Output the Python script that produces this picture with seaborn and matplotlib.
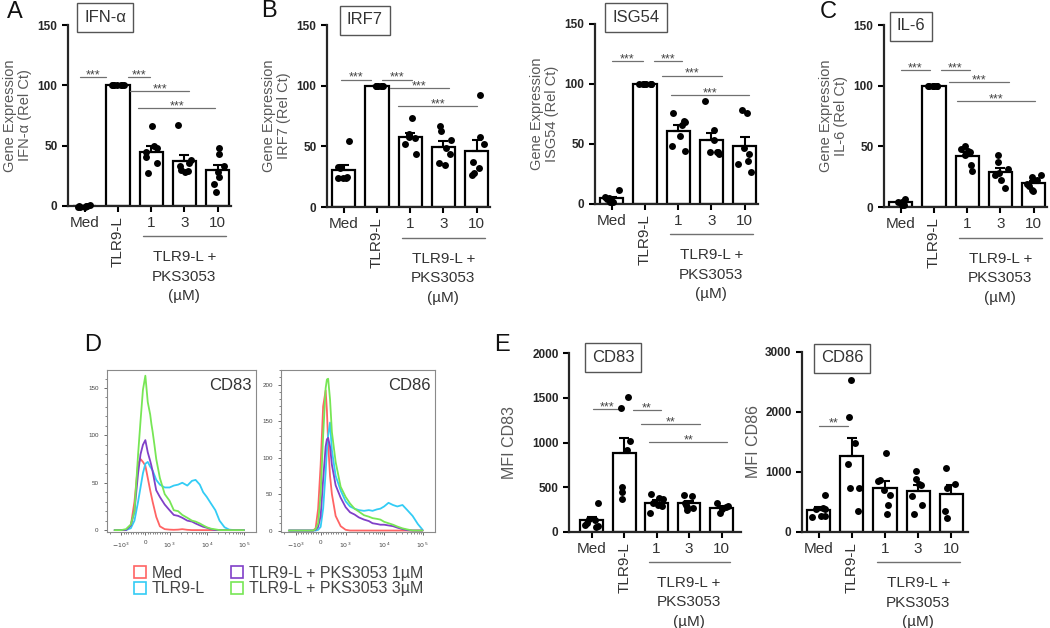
import numpy as np
import pandas as pd
import matplotlib
matplotlib.use('Agg')
import matplotlib.pyplot as plt
from matplotlib.lines import Line2D
from matplotlib.ticker import MultipleLocator, FixedLocator
import seaborn as sns

groups = ['Med', 'TLR9-L', '1', '3', '10']

# gene expression (Rel Ct), one list per group: Med, TLR9-L, 1, 3, 10 uM
ifna = [[0.5, -0.5, 0, -1, 0.3, -0.8, 0.2],
        [100, 100, 100, 100, 100, 100, 100],
        [66, 50, 48, 45, 41, 36, 27],
        [67, 38, 36, 33, 30, 29, 28],
        [48, 43, 33, 28, 24, 18, 12]]
irf7 = [[54, 33, 32, 25, 24, 24, 24],
        [100, 100, 100, 100, 100, 100, 100],
        [73, 60, 59, 58, 57, 52, 44],
        [67, 63, 55, 49, 44, 36, 35],
        [92, 58, 52, 37, 32, 28, 26]]
isg54 = [[12, 6, 5, 4, 3, 2, 2],
         [100, 100, 100, 100, 100, 100, 100],
         [76, 69, 68, 66, 57, 48, 44],
         [86, 62, 53, 43, 43, 43, 42],
         [78, 76, 47, 42, 36, 33, 27]]
il6 = [[7, 5, 4, 4, 3, 2, 2],
       [100, 100, 100, 100, 100, 100, 100],
       [50, 48, 46, 45, 43, 35, 30],
       [43, 37, 31, 28, 26, 22, 16],
       [26, 25, 22, 19, 17, 14, 13]]

# MFI
mfi_cd83 = [[320, 150, 130, 100, 80, 70, 60],
            [1510, 1380, 1020, 920, 500, 450, 370],
            [430, 380, 370, 320, 300, 290, 215],
            [410, 400, 320, 300, 280, 270, 250],
            [320, 290, 280, 260, 210]]
mfi_cd86 = [[609, 400, 390, 380, 260, 260, 250],
            [2540, 1915, 1480, 1135, 730, 730, 354],
            [1310, 870, 850, 700, 620, 450, 300],
            [1020, 880, 800, 780, 600, 450, 300],
            [1062, 802, 730, 343, 232]]

# flow histograms (fluorescence vs cell count)
fluor = [-1500, -1000, -800, -600, -450, -300, -200, -100, 0, 100, 200, 250, 300,
         375, 450, 600, 800, 1000, 1300, 1700, 2200, 3000, 4000, 5000, 6500, 8000,
         10000, 13000, 17000, 22000, 30000, 40000, 55000, 75000, 100000]
cd83_med = [0, 0, 0, 5, 30, 70, 75, 72, 68, 55, 42, 36, 30, 22, 14, 4, 1, 0.5, 0.3,
            0.5, 1, 0.3, 0, 0, 0, 0, 0, 0, 0, 0, 0, 0, 0, 0, 0]
cd83_tlr = [0, 0, 0, 2, 10, 30, 45, 60, 70, 72, 67, 65, 63, 58, 53, 48, 45, 45, 47,
            48, 50, 47, 52, 53, 48, 40, 35, 28, 21, 10, 3, 0.5, 0, 0, 0]
cd83_p1 = [0, 0, 0, 5, 20, 60, 80, 90, 95, 82, 73, 68, 62, 52, 42, 35, 27, 21, 16,
           15, 13, 10, 9, 7, 5, 3.5, 2.5, 1, 0, 0, 0, 0, 0, 0, 0]
cd83_p3 = [0, 0, 1, 6, 20, 80, 115, 148, 163, 135, 122, 112, 104, 90, 75, 55, 38, 31,
           21, 20, 16, 13, 10, 9, 7, 5, 3, 1.5, 0.8, 0, 0, 0, 0, 0, 0]
cd86_med = [0, 0, 0, 0, 0, 0, 3, 30, 90, 170, 192, 165, 120, 75, 50, 20, 6, 1, 0,
            0, 0, 0, 0, 0, 0, 0, 0, 0, 0, 0, 0, 0, 0, 0, 0]
cd86_tlr = [0, 0, 0, 0, 0, 0, 0, 1, 5, 30, 80, 110, 130, 148, 110, 75, 55, 40, 33,
            30, 28, 27, 28, 27, 29, 30, 33, 38, 35, 33, 35, 28, 20, 9, 1]
cd86_p1 = [0, 0, 0, 0, 0, 0, 1, 5, 20, 70, 115, 125, 127, 115, 90, 62, 45, 32, 25,
           22, 18, 15, 13, 10, 9, 8, 8, 7, 6, 4, 2, 0.5, 0, 0, 0]
cd86_p3 = [0, 0, 0, 0, 0, 0, 2, 10, 50, 130, 195, 207, 208, 180, 135, 94, 60, 46, 37,
           30, 26, 21, 19, 17, 16, 15, 12, 10, 8, 5.5, 3, 1.5, 0, 0, 0]

hist_labels = ['Med', 'TLR9-L', 'TLR9-L + PKS3053 1µM', 'TLR9-L + PKS3053 3µM']
hist_colors = ['#ff6464', '#33ccf5', '#8040c8', '#77e655']
hist_ticks = [-1000, 0, 1000, 10000, 100000]
hist_ticklabels = [r'$-10^3$', '0', r'$10^3$', r'$10^4$', r'$10^5$']

sns.set_style('ticks')
plt.rcParams['font.family'] = ['Liberation Sans', 'DejaVu Sans']

fig = plt.figure(figsize=(10.5, 6.28), dpi=100)


def add_ax(left, top, width, height):
    return fig.add_axes([left / 1050, 1 - (top + height) / 628, width / 1050, height / 628])


def bar_panel(ax, values, ymax, step, ylabel, xlim, sigs, labelpad=4, ylabel_size=10.5):
    df = pd.DataFrame({'group': np.repeat(groups, [len(v) for v in values]),
                       'value': np.concatenate(values)})
    sns.barplot(data=df, x='group', y='value', order=groups, errorbar=None,
                color='white', edgecolor='black', linewidth=1.6, width=0.7, ax=ax)
    stats = df.groupby('group', sort=False)['value'].agg(['mean', 'sem'])
    ax.errorbar(range(len(groups)), stats['mean'],
                yerr=[np.zeros(len(groups)), stats['sem'].fillna(0)],
                fmt='none', ecolor='black', elinewidth=1.5, capsize=3.5,
                capthick=1.5, zorder=3)
    sns.stripplot(data=df, x='group', y='value', order=groups, color='black',
                  size=5, jitter=0.22, ax=ax, zorder=4, clip_on=False)
    ax.set_xlim(*xlim)
    ax.set_ylim(0, ymax)
    ax.set_yticks(np.arange(0, ymax + 1, step))
    sns.despine(ax=ax)
    for s in ['left', 'bottom']:
        ax.spines[s].set_linewidth(1.6)
    ax.tick_params(axis='both', width=1.5, length=4, color='black')
    ax.tick_params(axis='y', labelsize=8.5)
    for lbl in ax.get_yticklabels():
        lbl.set_fontweight('bold')
    ax.set_xticks(range(len(groups)))
    ax.set_xticklabels(groups, fontsize=11, color='#333333')
    ax.get_xticklabels()[1].set_rotation(90)
    ax.set_xlabel('')
    ax.set_ylabel(ylabel, fontsize=ylabel_size, color='#595959', labelpad=labelpad,
                  linespacing=1.15)
    for x0, x1, y, txt in sigs:
        ax.plot([x0, x1], [y, y], color='#707070', lw=0.9)
        ax.annotate(txt, ((x0 + x1) / 2, y), xytext=(0, -3), textcoords='offset points',
                    ha='center', va='bottom', fontsize=9, color='#444444')
    trans = ax.get_xaxis_transform()
    ax.plot([1.75, 4.25], [-0.168, -0.168], transform=trans, color='#707070',
            lw=1, clip_on=False)
    ax.text(3, -0.245, 'TLR9-L +\nPKS3053\n(µM)', transform=trans, ha='center',
            va='top', fontsize=11, color='#333333', linespacing=1.5)


def hist_panel(ax, curves, ymax, name):
    for counts, color in zip(curves, hist_colors):
        sns.lineplot(x=fluor, y=counts, color=color, linewidth=1.3, ax=ax)
    ax.set_xscale('symlog', linthresh=1000, linscale=0.585)
    ax.set_xlim(-2400, 210000)
    ax.set_ylim(-2, ymax)
    ax.set_xticks(hist_ticks)
    ax.set_xticklabels(hist_ticklabels)
    minor = list(np.arange(-900, 901, 100)) + [m * 10 ** e for e in (3, 4) for m in range(2, 10)]
    minor += [-2000]
    ax.xaxis.set_minor_locator(FixedLocator(minor))
    ax.yaxis.set_major_locator(MultipleLocator(50))
    ax.yaxis.set_minor_locator(MultipleLocator(10))
    ax.tick_params(which='major', labelsize=4.5, length=2.5, width=0.6,
                   color='#555555', labelcolor='#444444')
    ax.tick_params(which='minor', length=1.5, width=0.5, color='#555555')
    for s in ax.spines.values():
        s.set_color('#8a8a8a')
        s.set_linewidth(0.8)
    ax.set_xlabel('')
    ax.set_ylabel('')
    ax.text(0.97, 0.95, name, transform=ax.transAxes, ha='right', va='top',
            fontsize=12, color='#333333')


def title_box(x, y, txt):
    fig.text(x / 1050, 1 - y / 628, txt, ha='center', va='center', fontsize=12,
             color='#333333',
             bbox=dict(boxstyle='square,pad=0.42', fc='white', ec='#555555', lw=1))


xl = (-0.5, 4.4)
ax_a = add_ax(68, 25, 163, 181)
bar_panel(ax_a, ifna, 150, 50, 'Gene Expression\nIFN-α (Rel Ct)', xl,
          [(-0.13, 0.65, 107, '***'), (1.29, 1.98, 107, '***'),
           (1.36, 3.15, 95, '***'), (1.61, 3.92, 81, '***')])
ax_b = add_ax(327, 25, 163, 182)
bar_panel(ax_b, irf7, 150, 50, 'Gene Expression\nIRF7 (Rel Ct)', xl,
          [(-0.08, 0.83, 105, '***'), (1.16, 2.07, 105, '***'),
           (1.38, 3.18, 98, '***'), (1.64, 4.01, 83, '***')])
ax_i = add_ax(595, 24, 163, 180)
bar_panel(ax_i, isg54, 150, 50, 'Gene Expression\nISG54 (Rel Ct)', xl,
          [(0.02, 0.93, 119, '***'), (1.27, 2.12, 119, '***'),
           (1.52, 3.32, 107, '***'), (1.78, 4.13, 91, '***')])
ax_c = add_ax(884, 25, 163, 182)
bar_panel(ax_c, il6, 150, 50, 'Gene Expression\nIL-6 (Rel Ct)', xl,
          [(0.0, 0.88, 113, '***'), (1.2, 2.1, 113, '***'),
           (1.45, 3.25, 103, '***'), (1.7, 4.05, 87, '***')])

ax_e1 = add_ax(569, 353, 172, 179)
bar_panel(ax_e1, mfi_cd83, 2000, 500, 'MFI CD83', (-0.7, 4.6),
          [(0.03, 0.94, 1373, '***'), (1.26, 2.15, 1358, '**'),
           (1.52, 3.33, 1206, '**'), (1.77, 4.18, 1002, '**')],
          labelpad=11, ylabel_size=11.5)
ax_e2 = add_ax(802, 352, 166, 180)
bar_panel(ax_e2, mfi_cd86, 3000, 1000, 'MFI CD86', (-0.5, 4.5),
          [(0.01, 0.9, 1771, '**')], labelpad=3, ylabel_size=11.5)

ax_d1 = add_ax(107, 370, 149, 162)
hist_panel(ax_d1, [cd83_med, cd83_tlr, cd83_p1, cd83_p3], 169, 'CD83')
ax_d2 = add_ax(281, 370, 154, 162)
hist_panel(ax_d2, [cd86_med, cd86_tlr, cd86_p1, cd86_p3], 220, 'CD86')

handles = [Line2D([], [], marker='s', ls='none', mfc='white', mec=c, mew=1.2,
                  markersize=9) for c in hist_colors]
fig.legend(handles, hist_labels, loc='center', bbox_to_anchor=(0.265, 0.075),
           ncol=2, frameon=False, fontsize=11.5, handlelength=0.8,
           handletextpad=0.35, columnspacing=1.6, labelspacing=0.05,
           labelcolor='#444444')

title_box(105, 17, 'IFN-α')
title_box(365, 20, 'IRF7')
title_box(636, 17, 'ISG54')
title_box(911, 26, 'IL-6')
title_box(613, 357, 'CD83')
title_box(842, 358, 'CD86')

for x, y, t in [(15, 12, 'A'), (269, 11, 'B'), (828, 12, 'C'), (93, 345, 'D'), (502, 345, 'E')]:
    fig.text(x / 1050, 1 - y / 628, t, ha='center', va='center', fontsize=17, color='#111111')

fig.savefig('out.png', dpi=100)
